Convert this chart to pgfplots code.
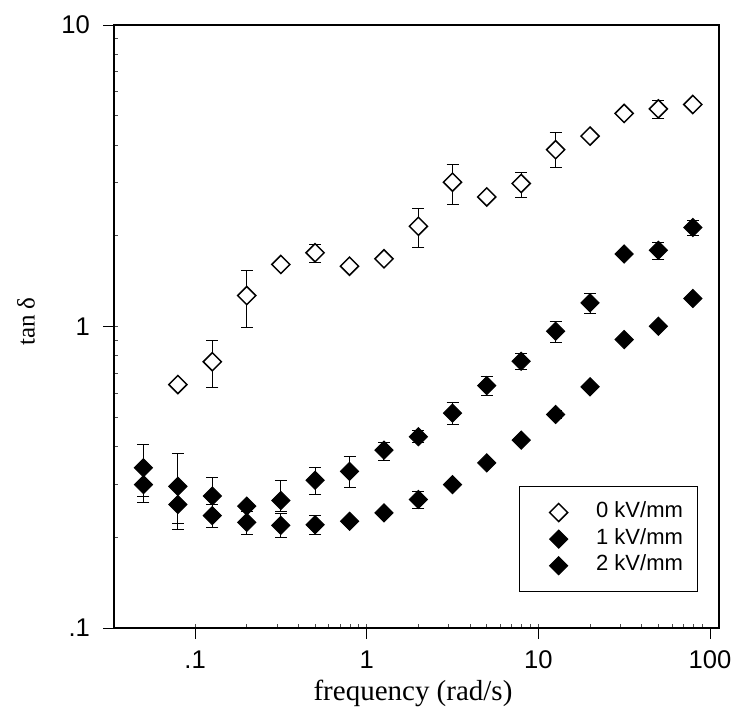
\documentclass[border=0pt]{standalone}
\usepackage{fontspec}
\setmainfont{Liberation Serif}
\setsansfont{Liberation Sans}
\usepackage{pgfplots}
\pgfplotsset{compat=1.18}
\usepackage{pgfplotstable}

\pgfplotstableread{
f v ep em
0.0794 0.642 0 0
0.126 0.764 0.135 0.136
0.2 1.267 0.27 0.277
0.316 1.606 0 0
0.5 1.756 0.114 0.122
0.794 1.585 0 0
1.26 1.677 0 0
2 2.15 0.31 0.32
3.16 3.01 0.43 0.47
5 2.69 0 0
7.94 2.98 0.27 0.30
12.6 3.86 0.53 0.50
20 4.28 0 0
31.6 5.09 0 0
50 5.27 0.36 0.37
79.4 5.45 0 0
}\zero

\pgfplotstableread{
f v ep em
0.05 0.34 0.066 0.066
0.0794 0.295 0.083 0.083
0.126 0.274 0.042 0.04
0.2 0.2535 0 0
0.316 0.265 0.043 0.021
0.5 0.309 0.031 0.032
0.794 0.331 0.04 0.039
1.26 0.389 0.022 0.029
2 0.431 0.02 0.02
3.16 0.516 0.043 0.043
5 0.637 0.048 0.048
7.94 0.767 0.047 0.047
12.6 0.965 0.077 0.077
20 1.198 0.093 0.093
31.6 1.74 0 0
50 1.79 0.115 0.12
79.4 2.13 0.12 0.12
}\one

\pgfplotstableread{
f v ep em
0.05 0.299 0.039 0.039
0.0794 0.257 0.035 0.035
0.126 0.236 0.021 0.021
0.2 0.224 0.019 0.019
0.316 0.219 0.02 0.02
0.5 0.22 0.016 0.016
0.794 0.226 0 0
1.26 0.241 0 0
2 0.267 0.017 0.017
3.16 0.299 0 0
5 0.353 0 0
7.94 0.42 0.01 0.01
12.6 0.511 0.015 0.015
20 0.631 0 0
31.6 0.905 0 0
50 1.002 0 0
79.4 1.239 0 0
}\two

\begin{document}
\begin{tikzpicture}
\useasboundingbox (-57pt,-48.5pt) rectangle (308.5pt,314pt);
\begin{axis}[
  scale only axis,
  width=302.5pt, height=301.5pt,
  xmode=log, ymode=log,
  xmin=0.0337, xmax=112.8,
  ymin=0.1, ymax=10,
  axis line style={line width=0.6pt},
  xtick={0.1,1,10,100},
  xticklabels={.1,1,10,100},
  ytick={0.1,1,10},
  yticklabels={.1,1,10},
  xtick pos=bottom, ytick pos=left,
  tick align=inside,
  major tick length=-5.5pt,
  minor tick length=2pt,
  major tick style={line width=0.5pt, black},
  minor tick style={line width=0.4pt, black!70},
  tick label style={font=\sffamily\fontsize{12.8}{15}\selectfont},
  xticklabel style={yshift=-8pt},
  yticklabel style={xshift=-8.5pt},
  xlabel={frequency (rad/s)},
  ylabel={tan δ},
  every axis x label/.style={at={(axis description cs:0.5,0)}, anchor=center, yshift=-32.5pt, xshift=-1.75pt, font=\fontsize{14.5}{16}\selectfont},
  every axis y label/.style={at={(axis description cs:0,0.5)}, xshift=-44pt, yshift=2.5pt, anchor=center, rotate=90, font=\fontsize{12.5}{15}\selectfont},
  legend style={at={(0.965,0.059)}, anchor=south east, draw=black, line width=0.5pt,
    font=\sffamily\fontsize{11}{13}\selectfont,
    inner xsep=5.7pt, inner ysep=6.45pt, column sep=0pt, row sep=0pt,
    nodes={text height=7.65pt, text depth=2.65pt, inner sep=1.5pt}},
  legend cell align=left,
  legend image code/.code={\fill[white, opacity=0] (-13.5pt,-1pt) rectangle (11pt,1pt); \draw[#1] plot coordinates {(0pt,0pt)};},
]
\addplot[only marks, mark=square*, mark size=3.2pt, mark options={rotate=45, fill=white, draw=black, line width=0.75pt},
  error bars/.cd, y dir=both, y explicit,
  error bar style={black, line width=0.5pt},
  error mark options={rotate=90, mark size=3pt, black, line width=0.5pt}]
  table[x=f, y=v, y error plus=ep, y error minus=em] {\zero};
\addlegendentry{\hspace*{6pt}0 kV/mm}
\addplot[only marks, mark=square*, mark size=3.2pt, mark options={rotate=45, fill=black, draw=black, line width=0.5pt},
  error bars/.cd, y dir=both, y explicit,
  error bar style={black, line width=0.5pt},
  error mark options={rotate=90, mark size=3pt, black, line width=0.5pt}]
  table[x=f, y=v, y error plus=ep, y error minus=em] {\one};
\addlegendentry{\hspace*{6pt}1 kV/mm}
\addplot[only marks, mark=square*, mark size=3.2pt, mark options={rotate=45, fill=black, draw=black, line width=0.5pt},
  error bars/.cd, y dir=both, y explicit,
  error bar style={black, line width=0.5pt},
  error mark options={rotate=90, mark size=3pt, black, line width=0.5pt}]
  table[x=f, y=v, y error plus=ep, y error minus=em] {\two};
\addlegendentry{\hspace*{6pt}2 kV/mm}
\end{axis}
\end{tikzpicture}
\end{document}
